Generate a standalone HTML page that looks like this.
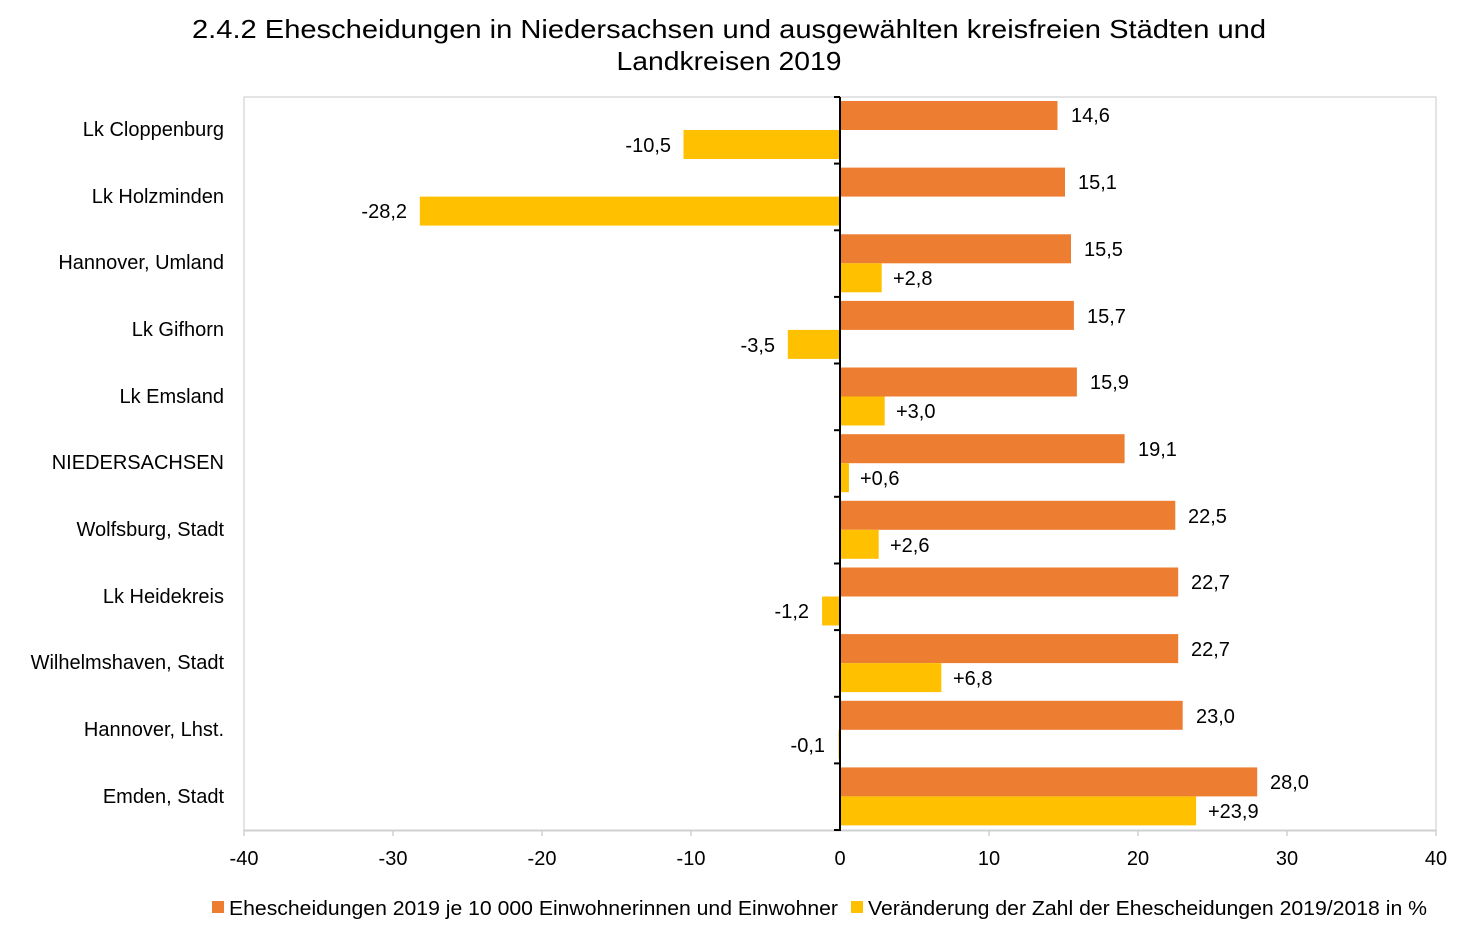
<!DOCTYPE html>
<html><head><meta charset="utf-8"><style>body{margin:0;background:#fff}svg{display:block}text{font-family:"Liberation Sans",sans-serif;fill:#000}</style></head>
<body>
<svg width="1465" height="937" xmlns="http://www.w3.org/2000/svg">
<text x="729" y="38" font-size="26" text-anchor="middle" textLength="1074" lengthAdjust="spacingAndGlyphs">2.4.2 Ehescheidungen in Niedersachsen und ausgewählten kreisfreien Städten und</text>
<text x="729" y="70" font-size="26" text-anchor="middle" textLength="225" lengthAdjust="spacingAndGlyphs">Landkreisen 2019</text>
<rect x="244" y="97" width="1192" height="733" fill="none" stroke="#c8c8c8" stroke-width="1"/>
<g font-size="20" text-anchor="end">
<text x="224" y="136">Lk Cloppenburg</text>
<text x="224" y="203">Lk Holzminden</text>
<text x="224" y="269">Hannover, Umland</text>
<text x="224" y="336">Lk Gifhorn</text>
<text x="224" y="403">Lk Emsland</text>
<text x="224" y="469">NIEDERSACHSEN</text>
<text x="224" y="536">Wolfsburg, Stadt</text>
<text x="224" y="603">Lk Heidekreis</text>
<text x="224" y="669">Wilhelmshaven, Stadt</text>
<text x="224" y="736">Hannover, Lhst.</text>
<text x="224" y="803">Emden, Stadt</text>
</g>
<g fill="#ED7D31">
<rect x="840" y="101" width="217.5" height="29"/>
<rect x="840" y="167.6" width="225" height="29"/>
<rect x="840" y="234.3" width="231" height="29"/>
<rect x="840" y="300.9" width="233.9" height="29"/>
<rect x="840" y="367.5" width="236.9" height="29"/>
<rect x="840" y="434.2" width="284.6" height="29"/>
<rect x="840" y="500.8" width="335.3" height="29"/>
<rect x="840" y="567.5" width="338.2" height="29"/>
<rect x="840" y="634.1" width="338.2" height="29"/>
<rect x="840" y="700.8" width="342.7" height="29"/>
<rect x="840" y="767.4" width="417.2" height="29"/>
</g>
<g fill="#FFC000">
<rect x="683.5" y="130" width="156.5" height="29"/>
<rect x="419.8" y="196.6" width="420.2" height="29"/>
<rect x="840" y="263.3" width="41.7" height="29"/>
<rect x="787.8" y="329.9" width="52.2" height="29"/>
<rect x="840" y="396.5" width="44.7" height="29"/>
<rect x="840" y="463.2" width="8.9" height="29"/>
<rect x="840" y="529.8" width="38.7" height="29"/>
<rect x="822.1" y="596.5" width="17.9" height="29"/>
<rect x="840" y="663.1" width="101.3" height="29"/>
<rect x="838.5" y="729.8" width="1.5" height="29"/>
<rect x="840" y="796.4" width="356.1" height="29"/>
</g>
<g font-size="20">
<text x="1071" y="122">14,6</text>
<text x="1078" y="189">15,1</text>
<text x="1084" y="256">15,5</text>
<text x="1087" y="323">15,7</text>
<text x="1090" y="389">15,9</text>
<text x="1138" y="456">19,1</text>
<text x="1188" y="523">22,5</text>
<text x="1191" y="589">22,7</text>
<text x="1191" y="656">22,7</text>
<text x="1196" y="723">23,0</text>
<text x="1270" y="789">28,0</text>
<text x="893" y="285">+2,8</text>
<text x="896" y="418">+3,0</text>
<text x="860" y="485">+0,6</text>
<text x="890" y="552">+2,6</text>
<text x="953" y="685">+6,8</text>
<text x="1208" y="818">+23,9</text>
</g>
<g font-size="20" text-anchor="end">
<text x="671" y="152">-10,5</text>
<text x="407" y="218">-28,2</text>
<text x="775" y="352">-3,5</text>
<text x="809" y="618">-1,2</text>
<text x="825" y="752">-0,1</text>
</g>
<line x1="244" y1="830.5" x2="1436" y2="830.5" stroke="#d0d0d0" stroke-width="2"/>
<g stroke="#d0d0d0" stroke-width="1.5">
<line x1="244" y1="830" x2="244" y2="836"/><line x1="393" y1="830" x2="393" y2="836"/><line x1="542" y1="830" x2="542" y2="836"/><line x1="691" y1="830" x2="691" y2="836"/><line x1="989" y1="830" x2="989" y2="836"/><line x1="1138" y1="830" x2="1138" y2="836"/><line x1="1287" y1="830" x2="1287" y2="836"/><line x1="1436" y1="830" x2="1436" y2="836"/>
</g>
<g stroke="#000" stroke-width="2">
<line x1="840" y1="97" x2="840" y2="831"/>
<line x1="834" y1="97" x2="840" y2="97"/><line x1="834" y1="163.6" x2="840" y2="163.6"/><line x1="834" y1="230.3" x2="840" y2="230.3"/><line x1="834" y1="296.9" x2="840" y2="296.9"/><line x1="834" y1="363.5" x2="840" y2="363.5"/><line x1="834" y1="430.2" x2="840" y2="430.2"/><line x1="834" y1="496.8" x2="840" y2="496.8"/><line x1="834" y1="563.5" x2="840" y2="563.5"/><line x1="834" y1="630.1" x2="840" y2="630.1"/><line x1="834" y1="696.8" x2="840" y2="696.8"/><line x1="834" y1="763.4" x2="840" y2="763.4"/><line x1="834" y1="830" x2="840" y2="830"/>
</g>
<g font-size="20" text-anchor="middle">
<text x="244" y="865">-40</text><text x="393" y="865">-30</text><text x="542" y="865">-20</text><text x="691" y="865">-10</text><text x="840" y="865">0</text><text x="989" y="865">10</text><text x="1138" y="865">20</text><text x="1287" y="865">30</text><text x="1436" y="865">40</text>
</g>
<rect x="212" y="901" width="12" height="12" fill="#ED7D31"/>
<text x="229" y="915" font-size="20" textLength="609" lengthAdjust="spacingAndGlyphs">Ehescheidungen 2019 je 10 000 Einwohnerinnen und Einwohner</text>
<rect x="851" y="901" width="12" height="12" fill="#FFC000"/>
<text x="868" y="915" font-size="20" textLength="559" lengthAdjust="spacingAndGlyphs">Veränderung der Zahl der Ehescheidungen 2019/2018 in %</text>
</svg>
</body></html>
